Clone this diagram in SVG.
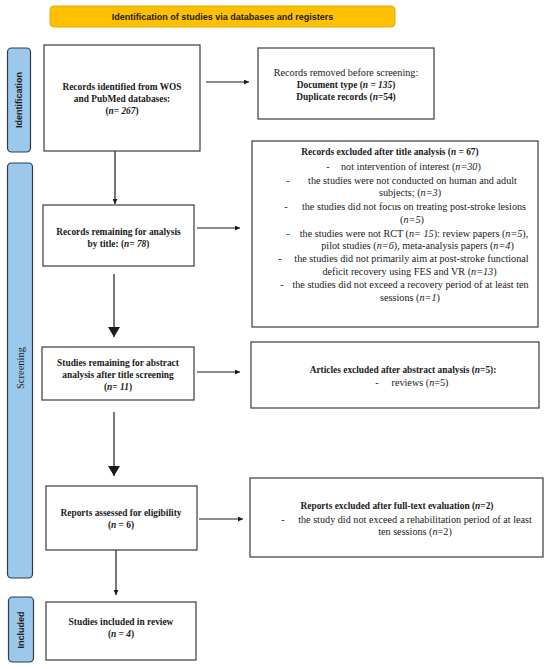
<svg xmlns="http://www.w3.org/2000/svg" width="550" height="669" viewBox="0 0 550 669">
<style>
.box{fill:#fff;stroke:#3a3a3a;stroke-width:1.2}
.bar{fill:#9cc8ec;stroke:#2e3b48;stroke-width:1.2}
.t{font-family:"Liberation Serif","Times New Roman",serif;font-size:10.2px;fill:#1a1a1a;text-anchor:middle}
.b{font-weight:bold;font-size:9.4px}
.i{font-style:italic}
.side{font-family:"Liberation Sans",Arial,sans-serif;font-weight:bold;font-size:9px;fill:#1a1a1a;text-anchor:middle}
.ban{font-family:"Liberation Sans",Arial,sans-serif;font-weight:bold;font-size:9px;fill:#1a1a1a;text-anchor:middle}
.ln{stroke:#1a1a1a;stroke-width:1.2;fill:none}
</style>
<defs>
<marker id="sm" viewBox="0 0 10 10" refX="10" refY="5" markerWidth="5" markerHeight="5" markerUnits="userSpaceOnUse" orient="auto"><path d="M0,0L10,5L0,10z" fill="#1a1a1a"/></marker>
<marker id="lg" viewBox="0 0 10 10" refX="10" refY="5" markerWidth="10" markerHeight="12" markerUnits="userSpaceOnUse" orient="auto" preserveAspectRatio="none"><path d="M0,0L10,5L0,10z" fill="#1a1a1a"/></marker>
</defs>

<g id="banner">
<rect x="50" y="6" width="345" height="21" rx="4" fill="#ffc000" stroke="#e6a800" stroke-width="1"/>
<text class="ban" x="222.5" y="20">Identification of studies via databases and registers</text>
</g>

<g id="bar-identification">
<rect class="bar" x="7.5" y="48" width="23" height="104" rx="4"/>
<text class="side" transform="translate(22,100) rotate(-90)">Identification</text>
</g>
<g id="bar-screening">
<rect class="bar" x="7.5" y="163" width="25" height="415" rx="4"/>
<text class="t" style="font-size:10.5px" transform="translate(23.5,368) rotate(-90)">Screening</text>
</g>
<g id="bar-included">
<rect class="bar" x="8.5" y="597" width="25" height="65" rx="4"/>
<text class="side" transform="translate(24,630) rotate(-90)">Included</text>
</g>

<g id="connectors">
<line class="ln" x1="206" y1="82" x2="249" y2="82" marker-end="url(#sm)"/>
<line class="ln" x1="115" y1="151" x2="115" y2="204" marker-end="url(#sm)"/>
<line class="ln" x1="197" y1="228" x2="240" y2="228" marker-end="url(#sm)"/>
<line class="ln" x1="114" y1="274" x2="114" y2="337" marker-end="url(#lg)"/>
<line class="ln" x1="197" y1="372" x2="240" y2="372" marker-end="url(#sm)"/>
<line class="ln" x1="114" y1="412" x2="114" y2="476" marker-end="url(#lg)"/>
<line class="ln" x1="199" y1="519" x2="243" y2="519" marker-end="url(#sm)"/>
<line class="ln" x1="116" y1="550" x2="116" y2="595" marker-end="url(#sm)"/>
</g>

<g id="records-identified">
<rect class="box" x="44" y="45" width="156" height="106"/>
<text class="t b" x="122" y="90">Records identified from WOS</text>
<text class="t b" x="122" y="102">and PubMed databases:</text>
<text class="t b" x="122" y="114">(<tspan class="i">n</tspan>= <tspan class="i">267</tspan>)</text>
</g>

<g id="records-removed">
<rect class="box" x="258" y="48" width="176" height="71"/>
<text class="t" x="346" y="76">Records removed before screening:</text>
<text class="t b" x="346" y="88">Document type (<tspan class="i">n</tspan> = <tspan class="i">135</tspan>)</text>
<text class="t b" x="346" y="100">Duplicate records (<tspan class="i">n</tspan>=54)</text>
</g>

<g id="records-remaining">
<rect class="box" x="43" y="205" width="151" height="61"/>
<text class="t b" x="118.5" y="235">Records remaining for analysis</text>
<text class="t b" x="118.5" y="247">by title: (<tspan class="i">n</tspan>= <tspan class="i">78</tspan>)</text>
</g>

<g id="excluded-title">
<rect class="box" x="252" y="141" width="286" height="186"/>
<text class="t b" x="390" y="155">Records excluded after title analysis (<tspan class="i">n</tspan> = 67)</text>
<text class="t" x="328" y="170">-</text>
<text class="t" x="341" y="170" style="text-anchor:start">not intervention of interest (<tspan class="i">n=30</tspan>)</text>
<text class="t" x="288" y="184">-</text>
<text class="t" x="412.5" y="184">the studies were not conducted on human and adult</text>
<text class="t" x="410" y="196">subjects; (<tspan class="i">n=3</tspan>)</text>
<text class="t" x="286" y="210">-</text>
<text class="t" x="414" y="210">the studies did not focus on treating post-stroke lesions</text>
<text class="t" x="412" y="223">(<tspan class="i">n=5</tspan>)</text>
<text class="t" x="288" y="237">-</text>
<text class="t" x="414" y="237">the studies were not RCT (<tspan class="i">n= 15</tspan>): review papers (<tspan class="i">n=5</tspan>),</text>
<text class="t" x="417.5" y="249">pilot studies (<tspan class="i">n=6</tspan>), meta-analysis papers (<tspan class="i">n=4</tspan>)</text>
<text class="t" x="280" y="262">-</text>
<text class="t" x="411.5" y="262">the studies did not primarily aim at post-stroke functional</text>
<text class="t" x="409.5" y="275">deficit recovery using FES and VR (<tspan class="i">n=13</tspan>)</text>
<text class="t" x="282" y="288">-</text>
<text class="t" x="410.5" y="288">the studies did not exceed a recovery period of at least ten</text>
<text class="t" x="410" y="301">sessions (<tspan class="i">n=1</tspan>)</text>
</g>

<g id="studies-abstract">
<rect class="box" x="42" y="347" width="152" height="53"/>
<text class="t b" x="118" y="366">Studies remaining for abstract</text>
<text class="t b" x="118" y="378">analysis after title screening</text>
<text class="t b" x="118" y="390">(<tspan class="i">n</tspan>= <tspan class="i">11</tspan>)</text>
</g>

<g id="excluded-abstract">
<rect class="box" x="251" y="342" width="288" height="66"/>
<text class="t b" x="403" y="373">Articles excluded after abstract analysis (<tspan class="i">n</tspan>=5):</text>
<text class="t" x="377" y="386">-</text>
<text class="t" x="420" y="386">reviews (<tspan class="i">n</tspan>=5)</text>
</g>

<g id="reports-assessed">
<rect class="box" x="46" y="486" width="151" height="64"/>
<text class="t b" x="121" y="516">Reports assessed for eligibility</text>
<text class="t b" x="121" y="528">(<tspan class="i">n</tspan> = 6)</text>
</g>

<g id="excluded-fulltext">
<rect class="box" x="250" y="478" width="293" height="79"/>
<text class="t b" x="397" y="509">Reports excluded after full-text evaluation (<tspan class="i">n</tspan>=2)</text>
<text class="t" x="283" y="523">-</text>
<text class="t" x="415" y="523">the study did not exceed a rehabilitation period of at least</text>
<text class="t" x="415" y="535">ten sessions (<tspan class="i">n</tspan>=2)</text>
</g>

<g id="studies-included">
<rect class="box" x="46" y="602" width="150" height="58"/>
<text class="t b" x="121" y="625">Studies included in review</text>
<text class="t b" x="121" y="637">(<tspan class="i">n</tspan> = <tspan class="i">4</tspan>)</text>
</g>
</svg>
